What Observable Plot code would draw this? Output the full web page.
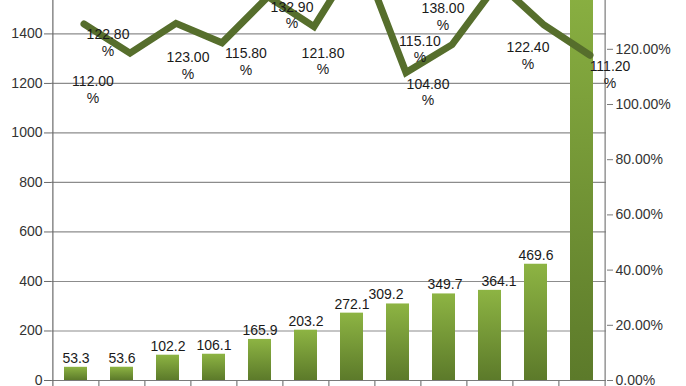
<!DOCTYPE html>
<html><head><meta charset="utf-8">
<script src="https://cdn.jsdelivr.net/npm/d3@7"></script>
<script src="https://cdn.jsdelivr.net/npm/@observablehq/plot@0.6"></script>
<style>html,body{margin:0;padding:0;background:#fff;overflow:hidden}</style>
</head><body><div id="chart"></div>
<script>
// ---- data ----
const categories = ["1","2","3","4","5","6","7","8","9","10","11","12"];
const barValues = [53.3, 53.6, 102.2, 106.1, 165.9, 203.2, 272.1, 309.2, 349.7, 364.1, 469.6, 1700];
const growthValues = [122.8, 112.0, 123.0, 115.8, 132.9, 121.8, 149.0, 104.8, 115.1, 138.0, 122.4, 111.2];
const leftTicks = [0, 200, 400, 600, 800, 1000, 1200, 1400];
const rightTicks = [0, 20, 40, 60, 80, 100, 120];
// label nudges (style only)
const labelDx = [24, -37, 12, 24, 24, 9, 0, 22, -32, -55, -16, 20];
const labelDy = [18, 36, 42, 18, 18, 34, 18, 19, 4, 33, 30, 19];
const barLabelDx = [0, 0, 0, 0, 0, 0, 0, -12, 1, 9, 0, 0];

// ---- layout ----
const W = 686, H = 386, mL = 51, mR = 80, mT = 0, mB = 6;
const yMax = 1535;
const plotH = H - mT - mB;
const pxPerUnit = plotH / yMax;
const rightPxPerPct = 2.76;
const linePxPerPct = 2.7, lineLift = 25;
const rightToLeft = p => p * rightPxPerPct / pxPerUnit;
const lineToLeft = v => (lineLift + v * linePxPerPct) / pxPerUnit;
const step = (W - mL - mR) / categories.length;
const below = 6 / pxPerUnit;

const bars = categories.map((c, i) => ({c, v: barValues[i]}));
const pts = categories.map((c, i) => ({c, g: growthValues[i]}));

const font = "Liberation Sans, Arial, Helvetica, sans-serif";
const labelMarks = pts.map((d, i) => d.g <= 140 ? Plot.text([d], {
  x: "c", y: p => lineToLeft(p.g), text: p => p.g.toFixed(2) + "\n%",
  dx: 8 + labelDx[i], dy: labelDy[i], fontSize: 14, lineHeight: 1.2, fill: "#1a1a1a"
}) : null).filter(Boolean);
const barLabelMarks = bars.map((d, i) => d.v < yMax * 0.9 ? Plot.text([d], {
  x: "c", y: "v", text: p => p.v.toFixed(1), dx: barLabelDx[i], dy: -9, fontSize: 14, fill: "#1a1a1a"
}) : null).filter(Boolean);

const chart = Plot.plot({
  width: W, height: H,
  marginLeft: mL, marginRight: mR, marginTop: mT, marginBottom: mB,
  style: {fontFamily: font, fontSize: "14px", background: "#fff", overflow: "hidden"},
  x: {type: "band", domain: categories, paddingInner: 0.5, paddingOuter: 0.25, axis: null},
  y: {domain: [0, yMax], axis: null},
  marks: [
    Plot.ruleY(leftTicks.slice(1), {stroke: "#8c8c8c", strokeWidth: 1.2}),
    Plot.barY(bars, {x: "c", y: "v", fill: "#6f9233", clip: true}),
    ...barLabelMarks,
    Plot.ruleY([0], {stroke: "#7a7a7a", strokeWidth: 1.2}),
    Plot.ruleX(categories.slice(1), {x: d => d, dx: -step / 2, y1: 0, y2: -below, stroke: "#7a7a7a", strokeWidth: 1.2}),
    Plot.ruleX([categories[0]], {x: d => d, dx: -step / 2, y1: -below, y2: yMax, stroke: "#6a6a6a", strokeWidth: 1.2}),
    Plot.ruleX([categories[categories.length - 1]], {x: d => d, dx: step / 2, y1: -below, y2: yMax, stroke: "#7a7a7a", strokeWidth: 1.2}),
    Plot.line(pts, {x: "c", y: d => lineToLeft(d.g), dx: 8, stroke: "#566e2c", strokeWidth: 7, strokeLinejoin: "miter", strokeMiterlimit: 4}),
    ...labelMarks,
    Plot.axisY(leftTicks, {anchor: "left", tickSize: 7, tickPadding: 2, fontSize: 14, color: "#333", stroke: "#6a6a6a", label: null,
      tickFormat: d => String(d)}),
    Plot.axisY(rightTicks.map(rightToLeft), {anchor: "right", tickSize: 6, tickPadding: 3, fontSize: 14, color: "#333", stroke: "#7a7a7a", label: null,
      tickFormat: d => Math.round(d * pxPerUnit / rightPxPerPct).toFixed(2) + "%"})
  ]
});
document.getElementById("chart").appendChild(chart);

// gradient for bars
const svg = d3.select(chart.tagName.toLowerCase() === "svg" ? chart : chart.querySelector("svg"));
const grad = svg.insert("defs", ":first-child").append("linearGradient")
  .attr("id", "barGrad").attr("x1", 0).attr("y1", 0).attr("x2", 0).attr("y2", 1);
grad.append("stop").attr("offset", "0%").attr("stop-color", "#8db443");
grad.append("stop").attr("offset", "100%").attr("stop-color", "#5c7a2a");
svg.selectAll("g[aria-label='bar'] rect").attr("fill", "url(#barGrad)");
</script>
</body></html>
